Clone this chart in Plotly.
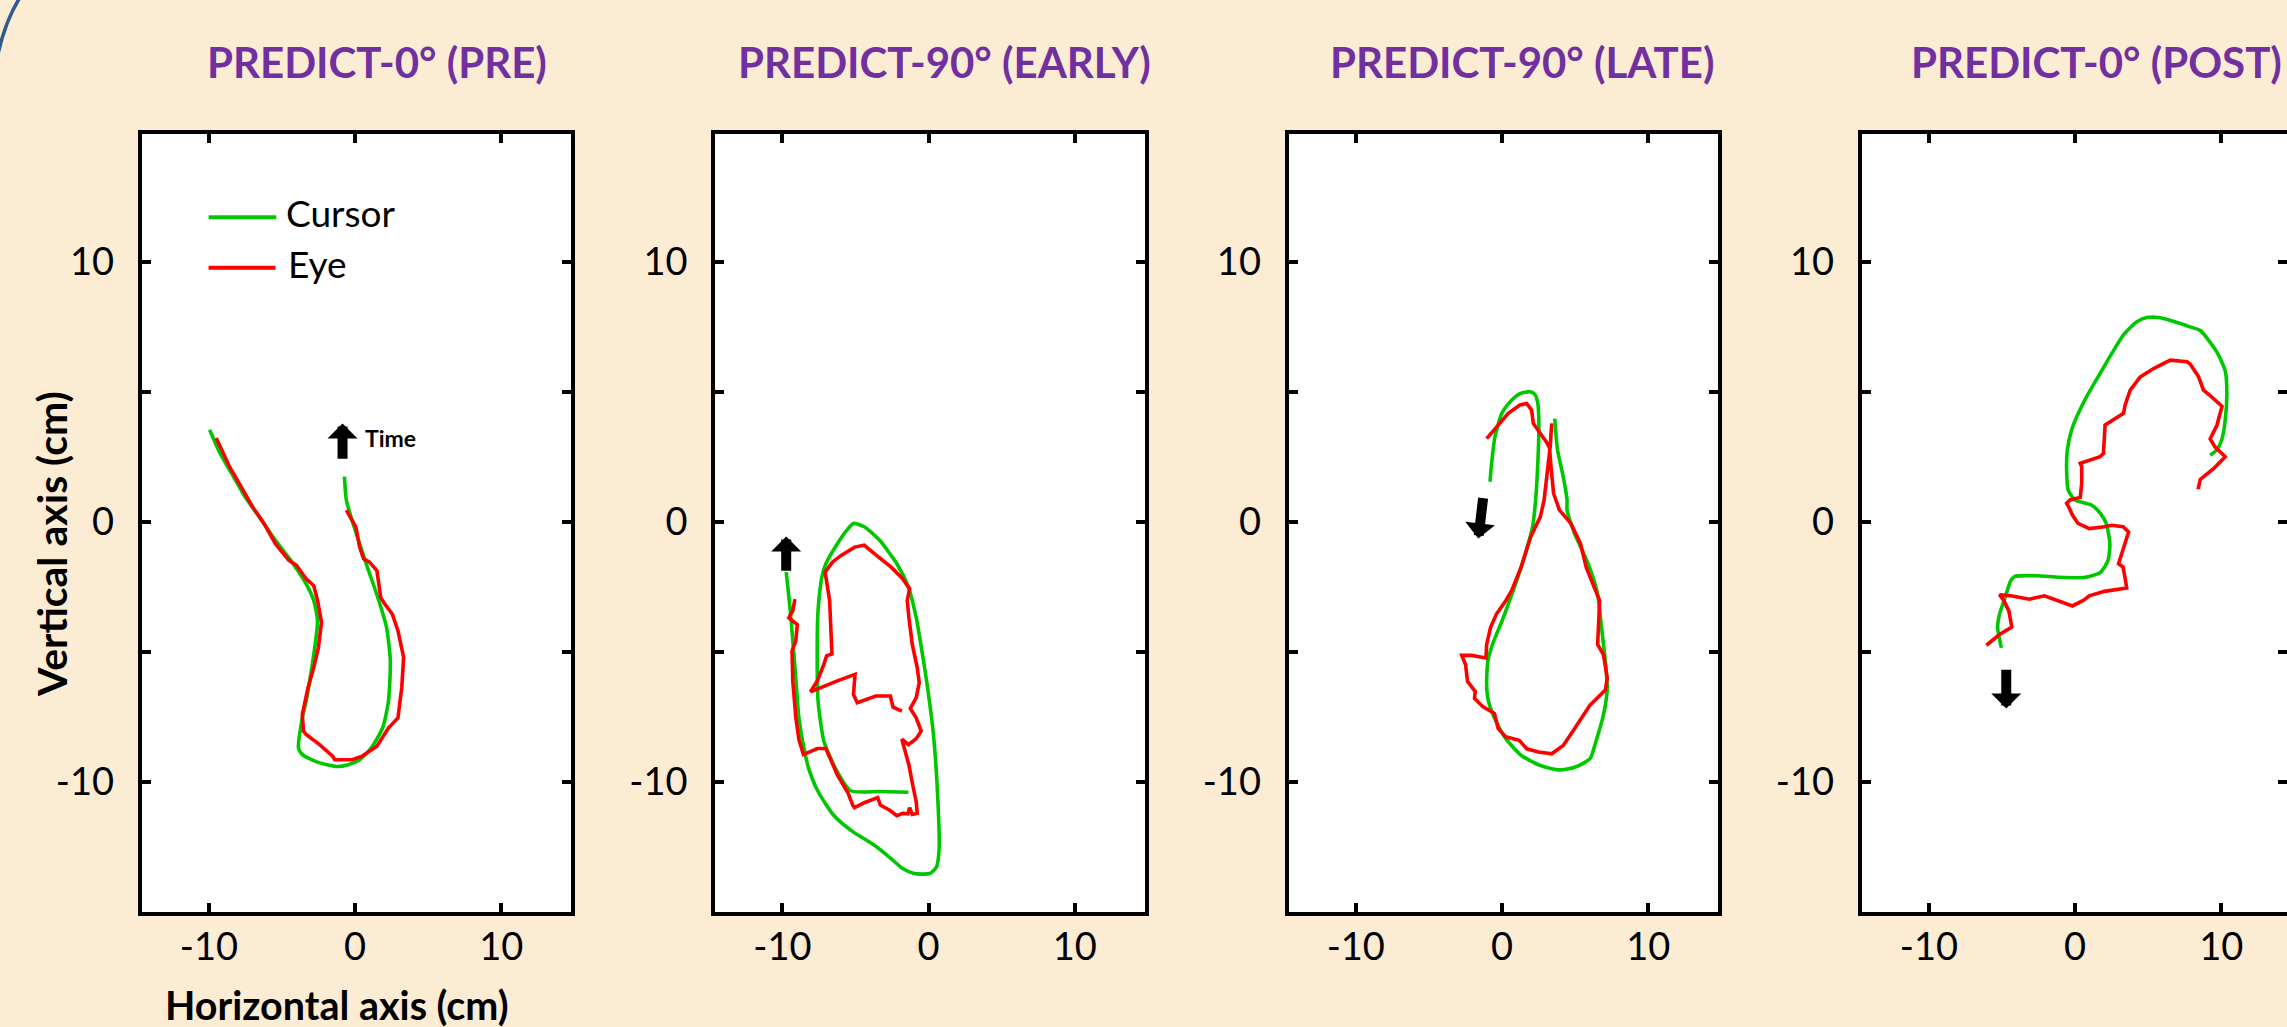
import plotly.graph_objects as go

# ---------------- trajectories (cm) ----------------
panel_titles = ["PREDICT-0° (PRE)", "PREDICT-90° (EARLY)",
                "PREDICT-90° (LATE)", "PREDICT-0° (POST)"]

# PRE
cursor_pre_x = [-9.95, -9.24, -8.32, -7.54, -6.88, -5.45, -4.40, -3.35, -2.83, -2.57,
                -2.70, -2.96, -3.35, -3.61, -3.87, -3.61, -2.57, -1.26, -0.47, 0.31,
                1.10, 1.88, 2.28, 2.41, 2.15, 1.62, 0.84, 0.31, -0.21, -0.60, -0.73]
cursor_pre_y = [3.54, 2.64, 1.74, 0.97, 0.45, -0.71, -1.48, -2.38, -3.02, -3.80,
                -4.57, -5.60, -6.89, -7.53, -8.69, -8.94, -9.23, -9.40, -9.33, -9.14,
                -8.69, -7.92, -6.89, -5.34, -4.05, -3.02, -1.74, -0.84, 0.06, 0.84, 1.74]
eye_pre_x = [-9.50, -8.59, -7.93, -7.02, -6.23, -5.45, -4.53, -4.01, -3.35, -2.83,
             -2.57, -2.30, -2.51, -2.83, -3.22, -3.53, -3.61, -3.53, -3.35, -2.43,
             -1.52, -1.39, -0.21, 0.45, 1.49, 2.28, 2.93, 3.19, 3.32, 2.93,
             2.54, 2.02, 1.75, 1.62, 1.49, 0.97, 0.58, 0.31, 0.05, -0.34, -0.60]
eye_pre_y = [3.22, 2.12, 1.48, 0.58, -0.06, -0.84, -1.48, -1.67, -2.19, -2.45,
             -3.02, -3.86, -4.83, -5.60, -6.37, -7.14, -7.40, -8.04, -8.17, -8.56,
             -9.01, -9.14, -9.14, -9.01, -8.62, -7.92, -7.53, -6.37, -5.21, -4.18,
             -3.54, -3.15, -2.90, -2.38, -1.87, -1.54, -1.42, -0.97, -0.19, 0.19, 0.45]

# EARLY
cursor_early_x = [-9.74, -9.53, -9.40, -9.14, -8.87, -8.48, -8.21, -7.56, -6.51, -5.19,
                  -3.88, -2.83, -1.77, -0.99, 0.07, 0.54, 0.72, 0.64, 0.33, -0.07,
                  -0.46, -0.85, -1.38, -2.17, -3.35, -4.40, -5.14, -5.59, -6.24, -7.03,
                  -7.30, -7.56, -7.62, -7.56, -7.16, -6.38, -5.33, -3.35, -1.38]
cursor_early_y = [-1.93, -3.02, -3.80, -5.60, -7.53, -8.82, -9.46, -10.36, -11.26, -11.90,
                  -12.36, -12.81, -13.32, -13.51, -13.51, -13.26, -12.55, -10.75, -8.17, -6.37,
                  -4.95, -3.67, -2.51, -1.61, -0.71, -0.19, -0.06, -0.32, -0.84, -1.61,
                  -2.12, -3.41, -4.95, -6.89, -8.43, -9.46, -10.33, -10.36, -10.39]
eye_early_x = [-1.83, -2.43, -2.62, -3.61, -4.88, -5.14, -5.03, -6.24, -8.08, -7.61,
               -7.16, -6.98, -6.61, -6.66, -6.77, -7.08, -6.56, -5.98, -5.06, -4.40,
               -4.19, -3.48, -2.56, -1.77, -1.30, -1.46, -1.35, -1.12, -0.78, -0.64,
               -0.85, -1.25, -0.85, -0.51, -0.85, -1.38, -1.83, -1.67, -1.35, -1.09,
               -0.85, -0.78, -1.12, -1.30, -1.41, -1.77, -2.17, -2.69, -3.30, -3.48,
               -4.40, -5.06, -5.19, -5.51, -5.85, -6.24, -6.69, -7.03, -7.61, -8.56,
               -8.87, -9.08, -9.29, -9.34, -9.08, -8.98, -9.56, -9.29, -9.14]
eye_early_y = [-7.27, -7.12, -6.69, -6.69, -6.95, -6.63, -5.86, -6.11, -6.53, -6.11,
               -5.47, -5.15, -5.08, -4.05, -3.02, -1.93, -1.54, -1.29, -0.97, -0.90,
               -0.99, -1.33, -1.74, -2.19, -2.57, -3.02, -3.67, -4.70, -5.60, -6.18,
               -6.76, -7.17, -7.53, -8.04, -8.33, -8.56, -8.35, -8.69, -9.33, -10.10,
               -10.75, -11.20, -11.24, -10.98, -11.22, -11.20, -11.29, -11.07, -10.88, -10.59,
               -10.79, -10.98, -10.88, -10.42, -10.10, -9.72, -9.14, -8.71, -8.71, -8.94,
               -8.37, -7.53, -6.11, -4.95, -4.57, -3.95, -3.69, -3.41, -2.97]

# LATE
cursor_late_x = [3.61, 3.80, 4.19, 4.45, 4.45, 4.97, 5.89, 6.54, 6.81, 7.07,
                 7.20, 6.94, 6.41, 6.02, 4.97, 3.93, 2.62, 1.31, 0.26, -0.39,
                 -0.92, -1.05, -0.97, -0.65, 0.00, 0.52, 1.31, 2.09, 2.30, 2.42,
                 2.50, 2.52, 2.45, 2.25, 1.92, 1.23, 0.55, -0.02, -0.48, -0.71, -0.82]
cursor_late_y = [3.97, 2.76, 1.73, 0.84, 0.45, -0.45, -1.61, -2.78, -4.07, -5.36,
                 -6.39, -7.42, -8.46, -9.10, -9.43, -9.53, -9.36, -8.97, -8.33, -7.68,
                 -6.91, -6.26, -5.36, -4.71, -3.81, -3.03, -1.74, -0.19, 0.84, 1.90,
                 2.95, 3.90, 4.55, 4.90, 5.00, 4.93, 4.61, 4.16, 3.27, 2.25, 1.54]
eye_late_x = [3.40, 3.30, 3.14, 2.98, 2.88, 2.62, 1.96, 1.31, 0.65, 0.26,
              -0.39, -0.79, -1.05, -1.10, -2.09, -2.75, -2.49, -2.36, -1.83, -1.88,
              -1.31, -0.52, -0.26, 0.26, 1.18, 1.70, 2.49, 3.40, 3.93, 4.19,
              4.97, 6.02, 7.07, 7.20, 6.94, 6.54, 6.68, 6.41, 5.76, 5.37,
              4.71, 3.93, 3.66, 3.53, 3.35, 3.25, 3.00, 2.49, 2.14, 2.03,
              1.69, 1.23, 0.43, -0.36, -1.05]
eye_late_y = [3.78, 2.90, 2.12, 1.35, 0.84, 0.19, -0.58, -1.74, -2.65, -3.03,
              -3.55, -4.07, -4.71, -5.23, -5.13, -5.13, -5.49, -6.13, -6.52, -6.78,
              -7.10, -7.36, -7.94, -8.26, -8.39, -8.72, -8.84, -8.91, -8.72, -8.59,
              -7.94, -7.04, -6.46, -6.00, -5.10, -4.71, -3.03, -2.65, -1.74, -0.84,
              -0.06, 0.45, 0.84, 1.09, 2.12, 2.85, 3.10, 3.52, 3.78, 4.29,
              4.55, 4.49, 4.17, 3.65, 3.20]

# POST
cursor_post_x = [-5.04, -5.30, -5.17, -4.79, -4.40, -4.15, -2.61, -1.08, 0.72, 1.74,
                 2.25, 2.38, 2.13, 1.74, 1.10, 0.00, -0.47, -0.58, -0.53, -0.24,
                 0.22, 0.79, 1.71, 2.51, 3.31, 4.22, 4.90, 5.82, 6.96, 7.87,
                 8.56, 9.70, 10.27, 10.38, 10.27, 10.05, 9.70, 9.24]
cursor_post_y = [-4.84, -4.07, -3.55, -2.91, -2.26, -2.10, -2.07, -2.13, -2.13, -1.94,
                 -1.48, -0.84, -0.06, 0.32, 0.65, 0.84, 1.22, 2.00, 2.76, 3.53,
                 4.17, 4.81, 5.70, 6.47, 7.18, 7.69, 7.85, 7.84, 7.66, 7.49,
                 7.35, 6.52, 5.79, 4.96, 3.92, 3.19, 2.77, 2.56]
eye_post_x = [-6.07, -5.17, -4.33, -4.53, -4.87, -5.17, -4.40, -3.12, -2.10, -1.08,
              -0.18, 0.59, 0.97, 2.00, 3.53, 3.41, 3.28, 2.97, 3.28, 3.66,
              3.28, 2.51, 2.00, 0.97, 0.20, -0.18, -0.44, -0.58, -0.35, 0.35,
              0.45, 0.45, 0.35, 1.71, 1.94, 1.99, 2.05, 3.31, 3.42, 3.77,
              4.46, 5.37, 6.51, 7.65, 7.87, 8.44, 8.78, 9.24, 10.05, 9.70,
              9.24, 9.58, 10.27, 9.47, 8.56, 8.44, 8.56]
eye_post_y = [-4.74, -4.33, -4.04, -3.42, -3.03, -2.80, -2.84, -2.97, -2.84, -3.03,
              -3.23, -3.01, -2.84, -2.67, -2.54, -2.13, -1.74, -1.61, -1.10, -0.39,
              -0.19, -0.13, -0.19, -0.26, -0.06, 0.26, 0.58, 0.71, 0.84, 0.94,
              1.48, 2.12, 2.25, 2.50, 2.63, 3.27, 3.72, 4.17, 4.48, 5.06,
              5.57, 5.89, 6.21, 6.15, 6.06, 5.58, 5.06, 4.85, 4.44, 3.71,
              3.19, 2.87, 2.50, 2.04, 1.63, 1.32, 1.32]

# Time-direction arrows (tail -> tip), cm
arrow_tail_x = [-0.86, -9.74, -1.28, -4.71]
arrow_tail_y = [2.37, -1.94, 0.97, -5.62]
arrow_tip_x = [-0.86, -9.74, -1.62, -4.71]
arrow_tip_y = [3.78, -0.56, -0.64, -7.17]

x_tick_vals = [-10, 0, 10]
x_tick_text = ["-10", "0", "10"]
y_tick_vals = [-10, -5, 0, 5, 10]
y_tick_text = ["-10", "", "0", "", "10"]

# ---------------- page geometry (px) ----------------
W, H = 2287, 1027
zero_px = [355.1, 928.6, 1502.0, 2075.1]   # pixel column of x = 0 in each panel
px_per_cm = 14.62
x_lo, x_hi = -14.6, 14.8
y_lo, y_hi = -15.0, 14.9
top_px, bottom_px = 134.0, 912.3
title_px = [376.9, 944.8, 1521.8, 2096.3]

FONT = "Lato"
GREEN = "#00c800"
RED = "#ff0000"
PURPLE = "#7030a0"


def px_x(p):
    return p / W


def px_y(p):
    return 1 - p / H


series = [
    (cursor_pre_x, cursor_pre_y, eye_pre_x, eye_pre_y),
    (cursor_early_x, cursor_early_y, eye_early_x, eye_early_y),
    (cursor_late_x, cursor_late_y, eye_late_x, eye_late_y),
    (cursor_post_x, cursor_post_y, eye_post_x, eye_post_y),
]

fig = go.Figure()
layout_axes = {}
annotations = []

common = dict(linecolor="black", linewidth=4, ticks="inside", ticklen=9,
              tickwidth=4, tickcolor="black", showgrid=False, zeroline=False,
              fixedrange=True, tickfont=dict(family=FONT, size=38, color="black"))

for i, (cx, cy, ex, ey) in enumerate(series):
    sfx = "" if i == 0 else str(i + 1)
    fig.add_trace(go.Scatter(
        x=cx, y=cy, mode="lines", name="Cursor", showlegend=False,
        line=dict(color=GREEN, width=3.6, shape="spline", smoothing=0.6),
        xaxis="x" + sfx, yaxis="y" + sfx, hoverinfo="skip"))
    fig.add_trace(go.Scatter(
        x=ex, y=ey, mode="lines", name="Eye", showlegend=False,
        line=dict(color=RED, width=3.6),
        xaxis="x" + sfx, yaxis="y" + sfx, hoverinfo="skip"))

    left = zero_px[i] + x_lo * px_per_cm
    right = min(W, zero_px[i] + x_hi * px_per_cm)
    hi = (right - zero_px[i]) / px_per_cm
    last = i == len(series) - 1

    layout_axes["xaxis" + sfx] = dict(
        domain=[px_x(left), px_x(right)], range=[x_lo, hi],
        anchor="y" + sfx, tickmode="array", tickvals=x_tick_vals,
        ticktext=x_tick_text, ticklabelstandoff=-2, showline=True,
        mirror="ticks", **common)
    layout_axes["yaxis" + sfx] = dict(
        domain=[px_y(bottom_px), px_y(top_px)], range=[y_lo, y_hi],
        anchor="x" + sfx, tickmode="array", tickvals=y_tick_vals,
        ticktext=y_tick_text, ticklabelstandoff=16, showline=True,
        mirror=False if last else "ticks", **common)

    annotations.append(dict(
        text="<b>%s</b>" % panel_titles[i], xref="paper", yref="paper",
        x=px_x(title_px[i]), y=px_y(62), xanchor="center", yanchor="middle",
        showarrow=False, font=dict(family=FONT, size=42, color=PURPLE)))

    annotations.append(dict(
        text="", xref="x" + sfx, yref="y" + sfx, axref="x" + sfx, ayref="y" + sfx,
        x=arrow_tip_x[i], y=arrow_tip_y[i], ax=arrow_tail_x[i], ay=arrow_tail_y[i],
        showarrow=True, arrowhead=1, arrowsize=0.5, arrowwidth=10,
        arrowcolor="black", standoff=0, startstandoff=0))

# right-hand tick marks of the last panel (its frame runs past the page edge)
layout_axes["yaxis5"] = dict(
    overlaying="y4", side="right", anchor="x4", range=[y_lo, y_hi],
    tickmode="array", tickvals=y_tick_vals, showticklabels=False,
    showline=False, **common)
fig.add_trace(go.Scatter(x=[None], y=[None], mode="lines", showlegend=False,
                         xaxis="x4", yaxis="y5", hoverinfo="skip"))

# "Time" label next to the first arrow
annotations.append(dict(
    text="<b>Time</b>", xref="x", yref="y", x=0.55, y=3.23,
    xanchor="left", yanchor="middle", showarrow=False,
    font=dict(family=FONT, size=23, color="black")))

# legend text
annotations.append(dict(
    text="Cursor", xref="paper", yref="paper", x=px_x(284), y=px_y(212),
    xanchor="left", yanchor="middle", showarrow=False,
    font=dict(family=FONT, size=37, color="black")))
annotations.append(dict(
    text="Eye", xref="paper", yref="paper", x=px_x(286), y=px_y(264),
    xanchor="left", yanchor="middle", showarrow=False,
    font=dict(family=FONT, size=37, color="black")))

# axis titles
annotations.append(dict(
    text="<b>Horizontal axis (cm)</b>", xref="paper", yref="paper",
    x=px_x(336.7), y=px_y(1004), xanchor="center", yanchor="middle",
    showarrow=False, font=dict(family=FONT, size=39.5, color="black")))
annotations.append(dict(
    text="<b>Vertical axis (cm)</b>", xref="paper", yref="paper",
    x=px_x(51), y=px_y(544), xanchor="center", yanchor="middle", textangle=-90,
    showarrow=False, font=dict(family=FONT, size=41, color="black")))

shapes = [
    # legend keys
    dict(type="line", xref="paper", yref="paper",
         x0=px_x(208.6), x1=px_x(276.3), y0=px_y(217.3), y1=px_y(217.3),
         line=dict(color=GREEN, width=4)),
    dict(type="line", xref="paper", yref="paper",
         x0=px_x(208.6), x1=px_x(275.5), y0=px_y(267.7), y1=px_y(267.7),
         line=dict(color=RED, width=4)),
    # decorative corner arc
    dict(type="path", xref="paper", yref="paper",
         path="M %.5f,%.5f Q %.5f,%.5f %.5f,%.5f" % (
             px_x(-2), px_y(54), px_x(5), px_y(22), px_x(19), px_y(-1)),
         line=dict(color="#2f5b8f", width=3.5)),
]

fig.update_layout(
    width=W, height=H, autosize=False,
    margin=dict(l=0, r=0, t=0, b=0, pad=0),
    paper_bgcolor="#fbecd3", plot_bgcolor="white",
    showlegend=False, annotations=annotations, shapes=shapes,
    font=dict(family=FONT),
    **layout_axes)

fig.write_html("out.html", config={"displayModeBar": False})
